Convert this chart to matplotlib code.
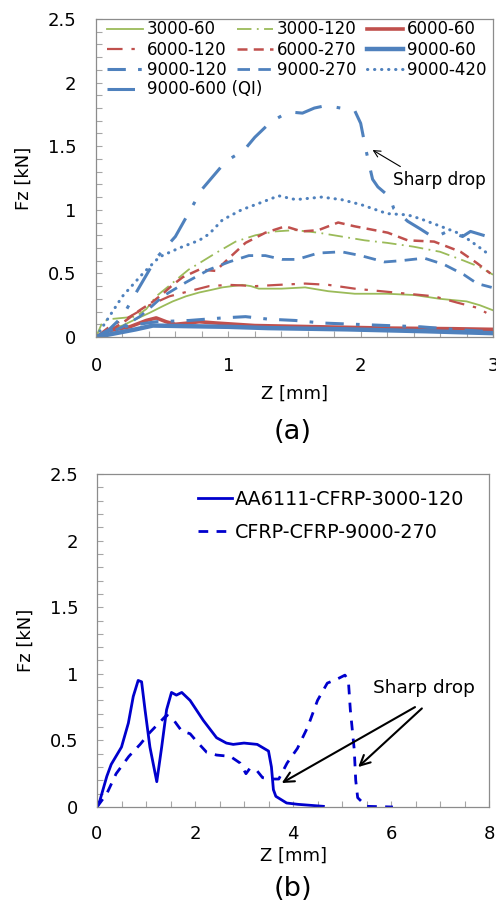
import matplotlib
matplotlib.use("Agg")
import matplotlib.pyplot as plt
from matplotlib.ticker import MultipleLocator, FuncFormatter

plt.rcParams['font.family'] = ['DejaVu Sans']

# ---------------- data: panel (a) ----------------
z_3000_60 = [0, 0.1, 0.2, 0.3, 0.405, 0.5, 0.58, 0.68, 0.78, 0.87, 0.955, 1.03, 1.105, 1.17, 1.23, 1.3, 1.4, 1.58, 1.755, 1.955, 2.2, 2.405, 2.6, 2.8, 2.9, 3.0]
f_3000_60 = [0, 0.06, 0.09, 0.14, 0.19, 0.24, 0.28, 0.32, 0.35, 0.37, 0.39, 0.40, 0.41, 0.40, 0.38, 0.38, 0.38, 0.39, 0.36, 0.34, 0.34, 0.33, 0.30, 0.28, 0.25, 0.21]

z_3000_120 = [0, 0.05, 0.1, 0.2, 0.3, 0.38, 0.455, 0.55, 0.63, 0.7, 0.78, 0.905, 1.055, 1.205, 1.355, 1.505, 1.68, 1.855, 2.03, 2.2, 2.4, 2.6, 2.78, 2.9, 3.0]
f_3000_120 = [0, 0.12, 0.14, 0.15, 0.16, 0.22, 0.32, 0.40, 0.47, 0.53, 0.58, 0.66, 0.75, 0.80, 0.83, 0.84, 0.82, 0.79, 0.76, 0.74, 0.71, 0.67, 0.60, 0.55, 0.49]

z_6000_60 = [0, 0.1, 0.255, 0.38, 0.455, 0.53, 0.6, 0.7, 0.78, 0.905, 1.2, 1.7, 2.2, 2.7, 3.0]
f_6000_60 = [0, 0.05, 0.08, 0.13, 0.15, 0.12, 0.10, 0.11, 0.12, 0.11, 0.09, 0.08, 0.07, 0.065, 0.06]

z_6000_120 = [0, 0.1, 0.255, 0.405, 0.555, 0.705, 0.855, 1.005, 1.205, 1.38, 1.58, 1.755, 1.955, 2.155, 2.355, 2.555, 2.73, 2.88, 2.95]
f_6000_120 = [0, 0.08, 0.16, 0.25, 0.32, 0.36, 0.40, 0.41, 0.40, 0.41, 0.42, 0.41, 0.38, 0.36, 0.34, 0.32, 0.27, 0.23, 0.19]

z_6000_270 = [0, 0.1, 0.2, 0.33, 0.42, 0.505, 0.58, 0.655, 0.78, 0.905, 1.005, 1.13, 1.28, 1.43, 1.555, 1.68, 1.83, 1.955, 2.205, 2.355, 2.555, 2.755, 2.88, 2.98]
f_6000_270 = [0, 0.05, 0.11, 0.21, 0.27, 0.34, 0.41, 0.47, 0.53, 0.52, 0.62, 0.74, 0.82, 0.87, 0.83, 0.84, 0.90, 0.87, 0.82, 0.76, 0.75, 0.67, 0.58, 0.50]

z_9000_60 = [0, 0.05, 0.1, 0.2, 0.3, 0.43, 0.7, 1.0, 1.3, 1.9, 2.5, 3.0]
f_9000_60 = [0, 0.01, 0.02, 0.04, 0.06, 0.09, 0.085, 0.08, 0.07, 0.06, 0.045, 0.03]

z_9000_120 = [0, 0.1, 0.255, 0.455, 0.705, 0.955, 1.13, 1.305, 1.505, 1.705, 1.955, 2.2, 2.455, 2.7, 3.0]
f_9000_120 = [0, 0.05, 0.09, 0.12, 0.13, 0.15, 0.16, 0.14, 0.13, 0.11, 0.10, 0.09, 0.08, 0.06, 0.04]

z_9000_270 = [0, 0.1, 0.2, 0.33, 0.42, 0.505, 0.68, 0.855, 1.005, 1.155, 1.28, 1.405, 1.52, 1.68, 1.855, 2.0, 2.18, 2.305, 2.48, 2.63, 2.78, 2.88, 2.99]
f_9000_270 = [0, 0.03, 0.08, 0.16, 0.24, 0.32, 0.43, 0.53, 0.59, 0.64, 0.64, 0.61, 0.61, 0.66, 0.67, 0.64, 0.59, 0.60, 0.62, 0.57, 0.49, 0.42, 0.39]

z_9000_420 = [0, 0.05, 0.2, 0.355, 0.48, 0.63, 0.78, 0.855, 0.955, 1.1, 1.255, 1.38, 1.51, 1.705, 1.855, 2.005, 2.2, 2.355, 2.45, 2.605, 2.755, 2.89, 2.98]
f_9000_420 = [0, 0.08, 0.32, 0.50, 0.63, 0.70, 0.76, 0.81, 0.92, 1.00, 1.06, 1.11, 1.08, 1.10, 1.08, 1.04, 0.97, 0.96, 0.93, 0.87, 0.81, 0.71, 0.64]

z_9000_600 = [0, 0.1, 0.2, 0.27, 0.36, 0.455, 0.6, 0.8, 0.98, 1.12, 1.2, 1.32, 1.455, 1.56, 1.65, 1.74, 1.955, 2.0, 2.04, 2.07, 2.09, 2.13, 2.22, 2.25, 2.355, 2.45, 2.555, 2.655, 2.77, 2.83, 2.99]
f_9000_600 = [0, 0.06, 0.16, 0.29, 0.45, 0.62, 0.79, 1.16, 1.38, 1.47, 1.57, 1.69, 1.77, 1.76, 1.80, 1.82, 1.78, 1.68, 1.47, 1.33, 1.24, 1.18, 1.10, 1.01, 0.91, 0.85, 0.78, 0.83, 0.79, 0.83, 0.78]

# ---------------- data: panel (b) ----------------
z_aa = [0, 0.06, 0.2, 0.29, 0.5, 0.64, 0.74, 0.84, 0.91, 0.98, 1.08, 1.22, 1.32, 1.42, 1.52, 1.62, 1.73, 1.9, 2.17, 2.44, 2.64, 2.78, 3.0, 3.27, 3.5, 3.56, 3.6, 3.65, 3.87, 4.1, 4.62]
f_aa = [0, 0.05, 0.23, 0.32, 0.45, 0.63, 0.83, 0.95, 0.94, 0.73, 0.45, 0.19, 0.45, 0.73, 0.86, 0.84, 0.86, 0.80, 0.65, 0.52, 0.48, 0.47, 0.48, 0.47, 0.42, 0.30, 0.13, 0.08, 0.03, 0.02, 0.005]

z_cf = [0, 0.2, 0.39, 0.65, 0.88, 1.08, 1.29, 1.42, 1.55, 1.73, 1.9, 2.04, 2.24, 2.44, 2.72, 2.92, 3.04, 3.12, 3.27, 3.38, 3.55, 3.71, 3.88, 4.09, 4.3, 4.5, 4.7, 4.9, 5.06, 5.13, 5.17, 5.25, 5.28, 5.32, 5.5, 6.04]
f_cf = [0, 0.10, 0.25, 0.38, 0.47, 0.56, 0.64, 0.69, 0.66, 0.57, 0.55, 0.49, 0.41, 0.39, 0.38, 0.33, 0.25, 0.29, 0.27, 0.22, 0.21, 0.21, 0.33, 0.44, 0.60, 0.80, 0.93, 0.96, 0.99, 0.95, 0.73, 0.43, 0.20, 0.07, 0.005, 0.0]

GREEN = '#9BBB59'
RED = '#C0504D'
BLUE = '#4F81BD'
DBLUE = '#0000CD'

fig = plt.figure(figsize=(4.96, 9.06), dpi=100)
W, H = 496, 906

def ax_rect(l, r, t, b):
    return [l / W, (H - b) / H, (r - l) / W, (b - t) / H]

def fpt(x, y):
    return (x / W, 1 - y / H)

ax1 = fig.add_axes(ax_rect(96, 493, 19, 337))
ax2 = fig.add_axes(ax_rect(97, 489, 474, 807))

styles = {
    '3000-60': dict(color=GREEN, lw=1.3, ls='-'),
    '3000-120': dict(color=GREEN, lw=1.3, ls=(0, (8, 3, 1, 3))),
    '6000-60': dict(color=RED, lw=2.6, ls='-'),
    '6000-120': dict(color=RED, lw=1.6, ls=(0, (7, 4, 1.5, 4))),
    '6000-270': dict(color=RED, lw=1.8, ls=(0, (4, 2.5))),
    '9000-60': dict(color=BLUE, lw=3.2, ls='-'),
    '9000-120': dict(color=BLUE, lw=2.2, ls=(0, (6, 4, 1.2, 4))),
    '9000-270': dict(color=BLUE, lw=2.0, ls=(0, (4.5, 3))),
    '9000-420': dict(color=BLUE, lw=2.2, ls=(0, (0.1, 2.2)), dash_capstyle='round'),
    '9000-600 (QI)': dict(color=BLUE, lw=2.2, ls=(0, (9, 5, 1.2, 5))),
}
series = [
    ('3000-60', z_3000_60, f_3000_60),
    ('3000-120', z_3000_120, f_3000_120),
    ('6000-60', z_6000_60, f_6000_60),
    ('6000-120', z_6000_120, f_6000_120),
    ('6000-270', z_6000_270, f_6000_270),
    ('9000-60', z_9000_60, f_9000_60),
    ('9000-120', z_9000_120, f_9000_120),
    ('9000-270', z_9000_270, f_9000_270),
    ('9000-420', z_9000_420, f_9000_420),
    ('9000-600 (QI)', z_9000_600, f_9000_600),
]
lines = {}
for lab, z, f in series:
    lines[lab], = ax1.plot(z, f, label=lab, **styles[lab])

ax1.set_xlim(0, 3)
ax1.set_ylim(0, 2.5)

ax2.plot(z_aa, f_aa, color=DBLUE, lw=2.0, ls='-', label='AA6111-CFRP-3000-120')
ax2.plot(z_cf, f_cf, color=DBLUE, lw=2.0, ls=(0, (3.5, 3)), label='CFRP-CFRP-9000-270')
ax2.set_xlim(0, 8)
ax2.set_ylim(0, 2.5)

for ax, xmaj, xmin, xpad, ypad in ((ax1, 1, 0.2, 14.5, 14.0), (ax2, 2, 0.5, 12.8, 13.5)):
    ax.xaxis.set_major_locator(MultipleLocator(xmaj))
    ax.xaxis.set_minor_locator(MultipleLocator(xmin))
    ax.yaxis.set_major_locator(MultipleLocator(0.5))
    ax.yaxis.set_minor_locator(MultipleLocator(0.1))
    ax.tick_params(which='both', direction='in', length=4, width=0.8, color='#A6A6A6',
                   top=False, right=False, labelsize=13)
    ax.tick_params(axis='x', which='both', pad=xpad)
    ax.tick_params(axis='y', which='both', pad=ypad)
    for sp in ax.spines.values():
        sp.set_color('#8C8C8C')
        sp.set_linewidth(0.9)
    ax.set_ylabel('Fz [kN]', fontsize=13)
    ax.set_xlabel('Z [mm]', fontsize=13)
    ax.yaxis.set_major_formatter(FuncFormatter(lambda v, p: ('%g' % v)))

ax1.yaxis.set_label_coords(-0.160, 0.5)
ax2.yaxis.set_label_coords(-0.160, 0.5)
ax1.xaxis.set_label_coords(0.5, -0.151)
ax2.xaxis.set_label_coords(0.5, -0.118)

order = ['3000-60', '6000-120', '9000-120',
         '3000-120', '6000-270', '9000-270',
         '6000-60', '9000-60', '9000-420']
leg1 = fig.legend([lines[k] for k in order], order, ncol=3, loc='upper left',
                  bbox_to_anchor=fpt(107, 20.5), bbox_transform=fig.transFigure,
                  frameon=False, fontsize=12, handlelength=2.16, handletextpad=0.24,
                  columnspacing=0.62, labelspacing=0.14, borderpad=0, borderaxespad=0)
leg2 = fig.legend([lines['9000-600 (QI)']], ['9000-600 (QI)'], loc='upper left',
                  bbox_to_anchor=fpt(107, 80.5), bbox_transform=fig.transFigure,
                  frameon=False, fontsize=12, handlelength=2.16, handletextpad=0.24,
                  borderpad=0, borderaxespad=0)

fig.legend(*ax2.get_legend_handles_labels(), loc='upper left',
           bbox_to_anchor=fpt(198, 489.5), bbox_transform=fig.transFigure,
           frameon=False, fontsize=13.8, handlelength=1.77, handletextpad=0.16,
           labelspacing=0.76, borderpad=0, borderaxespad=0)

ax1.text(2.244, 1.234, 'Sharp drop', fontsize=12.2, ha='left', va='center')
ax1.annotate('', xy=(2.09, 1.47), xytext=(2.30, 1.34),
             arrowprops=dict(arrowstyle='->', color='black', lw=0.8, shrinkA=0, shrinkB=0,
                             mutation_scale=12))

ax2.text(6.67, 0.893, 'Sharp drop', fontsize=13.3, ha='center', va='center')
ax2.annotate('', xy=(3.77, 0.18), xytext=(6.49, 0.75),
             arrowprops=dict(arrowstyle='->', color='black', lw=1.5, shrinkA=0, shrinkB=0,
                             mutation_scale=18))
ax2.annotate('', xy=(5.33, 0.30), xytext=(6.63, 0.74),
             arrowprops=dict(arrowstyle='->', color='black', lw=1.5, shrinkA=0, shrinkB=0,
                             mutation_scale=18))

fig.text(293 / W, 1 - 432 / H, '(a)', fontsize=19.6, ha='center', va='center')
fig.text(293 / W, 1 - 889 / H, '(b)', fontsize=19.6, ha='center', va='center')

fig.savefig('out.png', dpi=100)
